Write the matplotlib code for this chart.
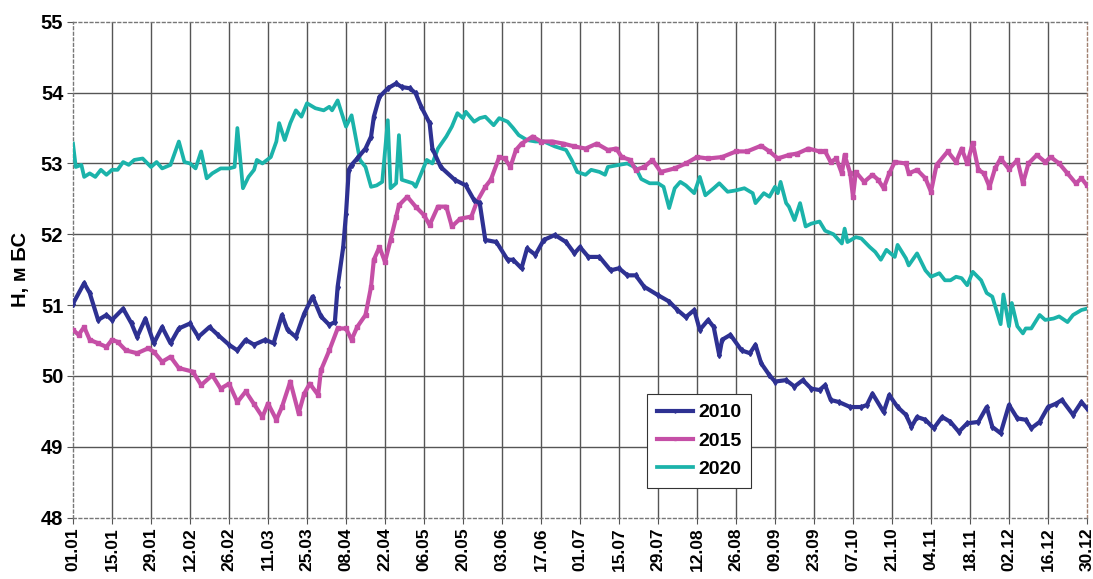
import matplotlib
matplotlib.use("Agg")
import matplotlib.pyplot as plt
import numpy as np

# ---------- DATA (day of year, level H in m BS) ----------
days_2010 = [0, 4, 6, 9, 12, 14, 18, 21, 23, 26, 29, 32, 35, 38, 42, 45, 49, 52, 56, 59,
             62, 65, 69, 72, 75, 77, 80, 83, 86, 89, 92, 94, 95, 97, 98, 99, 100, 102, 105, 107,
             108, 110, 113, 116, 118, 121, 123, 125, 128, 129, 132, 137, 141, 144, 146, 148, 152, 156, 158, 161,
             163, 166, 169, 173, 177, 180, 182, 185, 189, 193, 196, 199, 202, 205, 210, 214, 217, 220, 223, 225,
             228, 230, 232, 233, 236, 240, 243, 245, 247, 250, 252, 256, 259, 262, 265, 268, 270, 272, 275, 279,
             283, 285, 287, 291, 293, 296, 299, 301, 303, 306, 309, 312, 315, 318, 321, 325, 328, 330, 333, 336,
             339, 342, 344, 347, 350, 353, 355, 359, 362, 364]
h_2010 = [51.02, 51.31, 51.17, 50.79, 50.86, 50.79, 50.95, 50.74, 50.55, 50.81, 50.46, 50.69, 50.46, 50.67, 50.74, 50.55, 50.69, 50.58, 50.44, 50.36,
          50.51, 50.44, 50.51, 50.46, 50.86, 50.65, 50.55, 50.88, 51.12, 50.84, 50.72, 50.76, 51.26, 51.82, 52.29, 52.91, 52.98, 53.07, 53.21, 53.38,
          53.66, 53.94, 54.06, 54.13, 54.08, 54.06, 53.99, 53.80, 53.57, 53.21, 52.95, 52.77, 52.69, 52.48, 52.44, 51.92, 51.89, 51.64, 51.64, 51.52,
          51.80, 51.71, 51.92, 51.99, 51.89, 51.73, 51.82, 51.68, 51.68, 51.49, 51.52, 51.42, 51.42, 51.26, 51.14, 51.05, 50.93, 50.83, 50.93, 50.65,
          50.79, 50.69, 50.29, 50.51, 50.58, 50.36, 50.32, 50.44, 50.18, 50.01, 49.92, 49.94, 49.85, 49.94, 49.82, 49.80, 49.87, 49.66, 49.63, 49.56,
          49.56, 49.59, 49.75, 49.49, 49.73, 49.56, 49.45, 49.28, 49.42, 49.38, 49.26, 49.42, 49.35, 49.21, 49.33, 49.35, 49.56, 49.28, 49.19, 49.59,
          49.40, 49.38, 49.26, 49.35, 49.56, 49.61, 49.66, 49.45, 49.63, 49.54]

days_2015 = [0, 2, 4, 6, 9, 12, 14, 16, 19, 23, 27, 29, 32, 35, 38, 43, 46, 50, 53, 56,
             59, 62, 65, 68, 70, 73, 75, 78, 81, 83, 85, 88, 89, 92, 95, 98, 100, 102, 105, 107,
             108, 110, 112, 114, 116, 117, 120, 123, 126, 128, 131, 134, 136, 139, 143, 145, 148, 150, 153, 155,
             157, 159, 161, 165, 168, 172, 176, 180, 184, 188, 192, 195, 197, 200, 202, 205, 208, 211, 216, 220,
             224, 228, 233, 238, 242, 247, 250, 253, 257, 260, 264, 268, 270, 272, 274, 276, 277, 279, 280, 281,
             284, 287, 289, 291, 293, 295, 299, 300, 303, 306, 308, 310, 314, 317, 319, 321, 323, 325, 327, 329,
             331, 333, 336, 339, 341, 343, 346, 349, 351, 354, 357, 360, 362, 364]
h_2015 = [50.65, 50.58, 50.69, 50.51, 50.46, 50.41, 50.51, 50.48, 50.36, 50.32, 50.39, 50.34, 50.20, 50.27, 50.11, 50.06, 49.87, 50.01, 49.82, 49.89,
          49.63, 49.78, 49.60, 49.42, 49.61, 49.38, 49.56, 49.92, 49.47, 49.75, 49.89, 49.73, 50.08, 50.36, 50.67, 50.67, 50.51, 50.69, 50.86, 51.26,
          51.64, 51.82, 51.61, 51.92, 52.25, 52.41, 52.53, 52.39, 52.27, 52.13, 52.39, 52.39, 52.11, 52.22, 52.25, 52.46, 52.67, 52.77, 53.09, 53.07,
          52.95, 53.19, 53.28, 53.38, 53.31, 53.31, 53.28, 53.24, 53.21, 53.28, 53.19, 53.21, 53.09, 53.05, 52.91, 52.95, 53.05, 52.88, 52.93, 53.00,
          53.09, 53.07, 53.09, 53.17, 53.17, 53.25, 53.17, 53.07, 53.12, 53.14, 53.21, 53.17, 53.17, 53.02, 53.07, 52.86, 53.12, 52.86, 52.53, 52.88,
          52.74, 52.84, 52.77, 52.65, 52.86, 53.02, 53.00, 52.86, 52.91, 52.79, 52.60, 52.98, 53.17, 53.02, 53.21, 53.00, 53.29, 52.91, 52.86, 52.67,
          52.93, 53.07, 52.92, 53.05, 52.72, 53.00, 53.12, 53.02, 53.09, 53.00, 52.86, 52.72, 52.79, 52.69]

days_2020 = [0, 1, 3, 4, 6, 8, 10, 12, 14, 16, 18, 20, 22, 25, 28, 30, 32, 35, 38, 40,
             42, 44, 46, 48, 50, 53, 56, 58, 59, 61, 63, 65, 66, 68, 71, 73, 74, 76, 78, 80,
             82, 84, 87, 90, 92, 93, 95, 98, 100, 103, 105, 107, 109, 111, 113, 114, 116, 117, 118, 122,
             123, 125, 127, 129, 131, 134, 136, 138, 140, 141, 144, 146, 148, 151, 153, 156, 158, 160, 163, 166,
             169, 173, 177, 179, 181, 184, 186, 189, 191, 192, 196, 199, 202, 204, 207, 210, 212, 214, 216, 218,
             220, 223, 225, 227, 230, 232, 235, 238, 241, 244, 245, 248, 250, 252, 253, 254, 256, 257, 259, 261,
             263, 265, 268, 270, 273, 276, 277, 278, 281, 283, 286, 288, 290, 292, 295, 296, 299, 300, 303, 306,
             308, 311, 313, 315, 317, 319, 321, 323, 326, 328, 330, 333, 334, 336, 337, 339, 341, 342, 344, 347,
             349, 352, 354, 357, 359, 362, 364]
h_2020 = [53.28, 52.95, 52.98, 52.81, 52.86, 52.81, 52.91, 52.84, 52.91, 52.91, 53.02, 52.98, 53.05, 53.07, 52.95, 53.02, 52.93, 52.98, 53.31, 53.02,
          53.00, 52.93, 53.17, 52.79, 52.86, 52.93, 52.93, 52.95, 53.50, 52.65, 52.81, 52.91, 53.05, 53.00, 53.09, 53.31, 53.57, 53.33, 53.57, 53.75,
          53.66, 53.85, 53.78, 53.75, 53.80, 53.75, 53.89, 53.52, 53.68, 53.05, 52.95, 52.67, 52.69, 52.74, 53.61, 52.65, 52.72, 53.40, 52.77, 52.72,
          52.67, 52.86, 53.05, 53.00, 53.21, 53.38, 53.52, 53.71, 53.64, 53.73, 53.59, 53.64, 53.66, 53.54, 53.64, 53.59, 53.50, 53.40, 53.33, 53.31,
          53.31, 53.24, 53.19, 53.05, 52.88, 52.84, 52.91, 52.88, 52.84, 52.95, 52.98, 53.00, 52.94, 52.78, 52.72, 52.72, 52.67, 52.37, 52.65, 52.74,
          52.69, 52.58, 52.81, 52.55, 52.65, 52.72, 52.60, 52.62, 52.65, 52.58, 52.44, 52.58, 52.53, 52.67, 52.58, 52.74, 52.44, 52.39, 52.20, 52.44,
          52.11, 52.15, 52.18, 52.05, 52.00, 51.87, 52.08, 51.89, 51.96, 51.94, 51.82, 51.75, 51.64, 51.78, 51.68, 51.85, 51.66, 51.56, 51.73, 51.49,
          51.40, 51.45, 51.35, 51.35, 51.40, 51.38, 51.28, 51.47, 51.35, 51.17, 51.12, 50.73, 51.15, 50.70, 51.03, 50.70, 50.60, 50.67, 50.67, 50.86,
          50.79, 50.81, 50.84, 50.76, 50.86, 50.93, 50.95]

tick_labels = ["01.01", "15.01", "29.01", "12.02", "26.02", "11.03", "25.03", "08.04", "22.04",
               "06.05", "20.05", "03.06", "17.06", "01.07", "15.07", "29.07", "12.08", "26.08",
               "09.09", "23.09", "07.10", "21.10", "04.11", "18.11", "02.12", "16.12", "30.12"]

# ---------- STYLE ----------
C2010 = "#2e3192"
C2015 = "#c54fa6"
C2020 = "#1bb3aa"
GRID  = "#555555"
FONT  = "Liberation Sans"

plt.rcParams["font.family"] = [FONT, "DejaVu Sans"]
plt.rcParams["font.weight"] = "bold"

fig = plt.figure(figsize=(10.93, 5.79), dpi=100)
ax = fig.add_axes([0.0668, 0.1062, 0.9277, 0.8561])

l10, = ax.plot(days_2010, h_2010, color=C2010, lw=3.0, marker="d", ms=3.0,
               mec=C2010, zorder=5, label="2010")
l15, = ax.plot(days_2015, h_2015, color=C2015, lw=3.0, marker="s", ms=3.4,
               mec=C2015, zorder=4, label="2015")
l20, = ax.plot(days_2020, h_2020, color=C2020, lw=2.7, zorder=3, label="2020")

ax.set_xlim(0, 364)
ax.set_ylim(48, 55)
ax.set_xticks(np.arange(len(tick_labels)) * 14)
ax.set_xticklabels(tick_labels, rotation=90, fontsize=12.5, fontweight="bold")
ax.set_yticks(np.arange(48, 56))
ax.set_yticklabels([str(v) for v in range(48, 56)], fontsize=14.5, fontweight="bold")
ax.tick_params(axis="both", direction="out", length=4, width=0.8, color=GRID, pad=3)

ax.grid(True, color=GRID, lw=1.0)
ax.set_axisbelow(True)
# outermost grid lines are the plot-area border, drawn dotted by the spines
for gl in (ax.xaxis.get_gridlines()[0], ax.xaxis.get_gridlines()[-1],
           ax.yaxis.get_gridlines()[0], ax.yaxis.get_gridlines()[-1]):
    gl.set_visible(False)
for sp in ax.spines.values():
    sp.set_linestyle((0, (2, 2)))
    sp.set_color("#777777")
    sp.set_linewidth(1.0)
ax.spines["right"].set_color("#a08070")

ax.set_ylabel("Н, м БС", fontsize=14.5, fontweight="bold", labelpad=8)

leg = ax.legend(handles=[l10, l15, l20], loc="lower left", bbox_to_anchor=(0.566, 0.06),
                borderaxespad=0, fancybox=False, framealpha=1, edgecolor="#333333",
                prop={"family": FONT, "weight": "bold", "size": 14},
                handlelength=1.85, handletextpad=0.3, labelspacing=0.55,
                borderpad=0.5, markerscale=0.6)
leg.get_frame().set_linewidth(0.8)

fig.savefig("out.png", dpi=100, facecolor="white")
